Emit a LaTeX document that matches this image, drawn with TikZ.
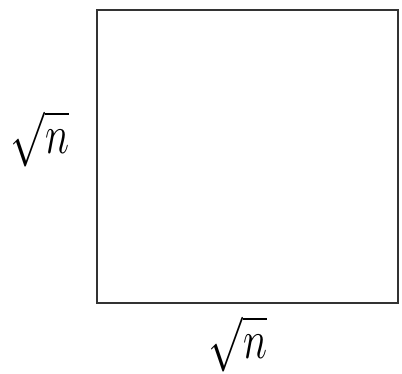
\documentclass[tikz,border=0pt]{standalone}
\begin{document}
\begin{tikzpicture}[x=1pt,y=-1pt,
  box/.style={draw=black!80,line width=1.8pt,inner sep=0pt,minimum width=301pt,minimum height=293pt},
  lbl/.style={inner sep=0pt,font=\Huge,xscale=1.65,yscale=2.2}]
\useasboundingbox (0,0) rectangle (402,374);
\node[box] (sq) at (247.5,156.5) {};
\node[lbl] (left) at (40,139) {$\sqrt{n}$};
\node[lbl] (bottom) at (238,344) {$\sqrt{n}$};
\end{tikzpicture}
\end{document}
